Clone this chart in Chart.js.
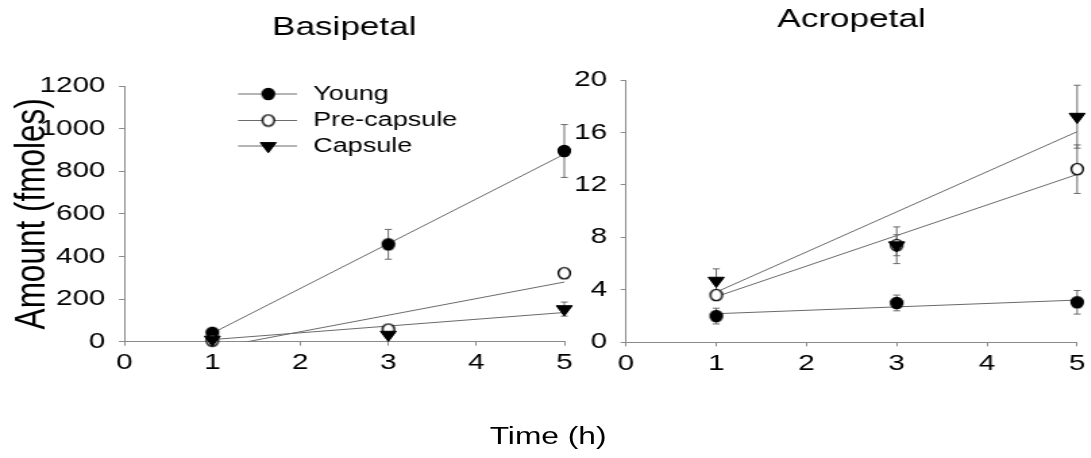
<!DOCTYPE html>
<html>
<head>
<meta charset="utf-8">
<title>Basipetal / Acropetal</title>
<script src="https://cdn.jsdelivr.net/npm/chart.js@4.4.0/dist/chart.umd.min.js"></script>
<style>
  html, body { margin: 0; padding: 0; background: #fff; }
  /* the original figure is stretched sideways, so stretch the whole stage the same way */
  #stage { position: relative; width: 809px; height: 458px; transform: scaleX(1.35); transform-origin: 0 0; }
  #basi { position: absolute; left: 0; top: 0; }
  #acro { position: absolute; left: 415px; top: 0; }
  #xtitle { position: absolute; left: 306px; width: 200px; top: 421px; text-align: center;
            font: 23.5px "Liberation Sans", Arial, sans-serif; line-height: 30px; color: #000; }
</style>
</head>
<body>
<div id="stage">
  <canvas id="basi" width="430" height="458"></canvas>
  <canvas id="acro" width="393" height="458"></canvas>
  <div id="xtitle">Time (h)</div>
</div>
<script>
const hours = [1, 3, 5]
const fitHours = [1, 5]
const seriesNames = ['Young', 'Pre-capsule', 'Capsule']

// Basipetal, fmoles
const basiYoung = [42, 457, 895]
const basiYoungErr = [0, 70, 124]
const basiPre = [5, 57, 321]
const basiPreErr = [0, 0, 0]
const basiCaps = [10, 33, 153]
const basiCapsErr = [0, 0, 33]
// regression lines, read at 1 h and 5 h
const basiYoungFit = [40, 880]
const basiPreFit = [-31, 280]
const basiCapsFit = [10, 137]

// Acropetal, fmoles
const acroYoung = [2.0, 3.0, 3.05]
const acroYoungErr = [0.6, 0.6, 0.9]
const acroPre = [3.6, 7.4, 13.2]
const acroPreErr = [0.2, 0.8, 1.85]
const acroCaps = [4.7, 7.4, 17.2]
const acroCapsErr = [0.9, 1.4, 2.4]
const acroYoungFit = [2.18, 3.22]
const acroPreFit = [3.48, 12.8]
const acroCapsFit = [3.83, 16.06]

const FONT = '"Liberation Sans", Arial, sans-serif'
const AXIS_GREY = '#8a8a8a'
const LINE_GREY = '#6a6a6a'

Chart.defaults.font.family = FONT
Chart.defaults.color = '#000'

// circles are drawn a little narrow so they stay round after the stretch
function roundMarker(fill) {
    const c = document.createElement('canvas')
    c.width = 12
    c.height = 14
    const g = c.getContext('2d')
    g.beginPath()
    g.ellipse(6, 7, 4.4, 5.6, 0, 0, 2 * Math.PI)
    g.fillStyle = fill
    g.fill()
    g.strokeStyle = '#000'
    g.lineWidth = 1.4
    g.stroke()
    return c
}

const markers = [
    { pointStyle: roundMarker('#000'), radius: 5.5, rotation: 0, fill: '#000' },
    { pointStyle: roundMarker('#fff'), radius: 5.5, rotation: 0, fill: '#fff' },
    { pointStyle: 'triangle', radius: 6.8, rotation: 180, fill: '#000' }
]

function points(xs, ys) {
    return xs.map((x, i) => ({ x, y: ys[i] }))
}

function pointSet(i, values, errors) {
    const m = markers[i]
    return {
        label: seriesNames[i],
        data: points(hours, values),
        errors,
        showLine: false,
        clip: false,
        pointStyle: m.pointStyle,
        pointRadius: m.radius,
        pointRotation: m.rotation,
        pointBackgroundColor: m.fill,
        pointBorderColor: '#000',
        pointBorderWidth: 1,
        order: 3 - i
    }
}

function fitSet(i, fit) {
    return {
        label: seriesNames[i] + ' fit',
        data: points(fitHours, fit),
        showLine: true,
        borderColor: LINE_GREY,
        borderWidth: 1,
        pointRadius: 0,
        order: 10 + i
    }
}

// vertical error bars with small caps, drawn under the markers
const errorBars = {
    id: 'errorBars',
    beforeDatasetsDraw(chart) {
        const ctx = chart.ctx
        const yScale = chart.scales.y
        ctx.save()
        ctx.strokeStyle = LINE_GREY
        ctx.lineWidth = 1
        chart.data.datasets.forEach((ds, i) => {
            if (!ds.errors) return
            chart.getDatasetMeta(i).data.forEach((pt, j) => {
                const e = ds.errors[j]
                if (!e) return
                const v = ds.data[j].y
                const top = yScale.getPixelForValue(v + e)
                const bot = yScale.getPixelForValue(v - e)
                ctx.beginPath()
                ctx.moveTo(pt.x, top); ctx.lineTo(pt.x, bot)
                ctx.moveTo(pt.x - 2.6, top); ctx.lineTo(pt.x + 2.6, top)
                ctx.moveTo(pt.x - 2.6, bot); ctx.lineTo(pt.x + 2.6, bot)
                ctx.stroke()
            })
        })
        ctx.restore()
    }
}

// legend inside the basipetal plot: line through the marker, then the name
const legendInside = {
    id: 'legendInside',
    afterDraw(chart) {
        const ctx = chart.ctx
        const rows = [94, 120.5, 146]
        ctx.save()
        seriesNames.forEach((name, i) => {
            const y = rows[i]
            ctx.strokeStyle = LINE_GREY
            ctx.lineWidth = 1
            ctx.beginPath()
            ctx.moveTo(176.3, y); ctx.lineTo(220, y)
            ctx.stroke()
            const m = markers[i]
            ctx.fillStyle = m.fill
            ctx.strokeStyle = '#000'
            Chart.helpers.drawPoint(ctx, { pointStyle: m.pointStyle, radius: m.radius, rotation: m.rotation, borderWidth: 1 }, 198.7, y)
            ctx.fillStyle = '#000'
            ctx.font = '20px ' + FONT
            ctx.textBaseline = 'middle'
            ctx.textAlign = 'left'
            ctx.fillText(name, 232, y)
        })
        ctx.restore()
    }
}

function axisX() {
    return {
        type: 'linear', min: 0, max: 5,
        ticks: { stepSize: 1, font: { size: 22 }, padding: 4, color: '#000' },
        grid: { drawOnChartArea: false, tickLength: 4, color: AXIS_GREY },
        border: { color: AXIS_GREY, width: 1 },
        afterFit(s) { s.height = 50 }
    }
}

function axisY(max, step, width, title) {
    return {
        min: 0, max,
        ticks: { stepSize: step, font: { size: 22 }, padding: 10, color: '#000', callback: v => String(v) },
        grid: { drawOnChartArea: false, tickLength: 4, color: AXIS_GREY },
        border: { color: AXIS_GREY, width: 1 },
        title: title ? { display: true, text: title, font: { size: 31.5 }, color: '#000', padding: { top: 1.5, bottom: 0 } } : { display: false },
        afterFit(s) { s.width = width }
    }
}

new Chart(document.getElementById('basi'), {
    type: 'scatter',
    data: {
        datasets: [
            pointSet(0, basiYoung, basiYoungErr),
            pointSet(1, basiPre, basiPreErr),
            pointSet(2, basiCaps, basiCapsErr),
            fitSet(0, basiYoungFit),
            fitSet(1, basiPreFit),
            fitSet(2, basiCapsFit)
        ]
    },
    options: {
        responsive: false,
        animation: false,
        events: [],
        layout: { padding: { left: 4, right: 12, top: 0, bottom: 66.3 } },
        plugins: {
            legend: { display: false },
            tooltip: { enabled: false },
            title: { display: true, text: 'Basipetal', fullSize: false, color: '#000',
                     font: { size: 26, weight: 'normal' }, padding: { top: 12.4, bottom: 42.4 } }
        },
        scales: { x: axisX(), y: axisY(1200, 200, 88.1, 'Amount (fmoles)') }
    },
    plugins: [errorBars, legendInside]
})

new Chart(document.getElementById('acro'), {
    type: 'scatter',
    data: {
        datasets: [
            pointSet(0, acroYoung, acroYoungErr),
            pointSet(1, acroPre, acroPreErr),
            pointSet(2, acroCaps, acroCapsErr),
            fitSet(0, acroYoungFit),
            fitSet(1, acroPreFit),
            fitSet(2, acroCapsFit)
        ]
    },
    options: {
        responsive: false,
        animation: false,
        events: [],
        layout: { padding: { left: 0, right: 9.4, top: 0, bottom: 65.7 } },
        plugins: {
            legend: { display: false },
            tooltip: { enabled: false },
            title: { display: true, text: 'Acropetal', fullSize: false, color: '#000',
                     font: { size: 26, weight: 'normal' }, padding: { top: 4.4, bottom: 44.4 } }
        },
        scales: { x: axisX(), y: axisY(20, 4, 48.7, null) }
    },
    plugins: [errorBars]
})
</script>
</body>
</html>
